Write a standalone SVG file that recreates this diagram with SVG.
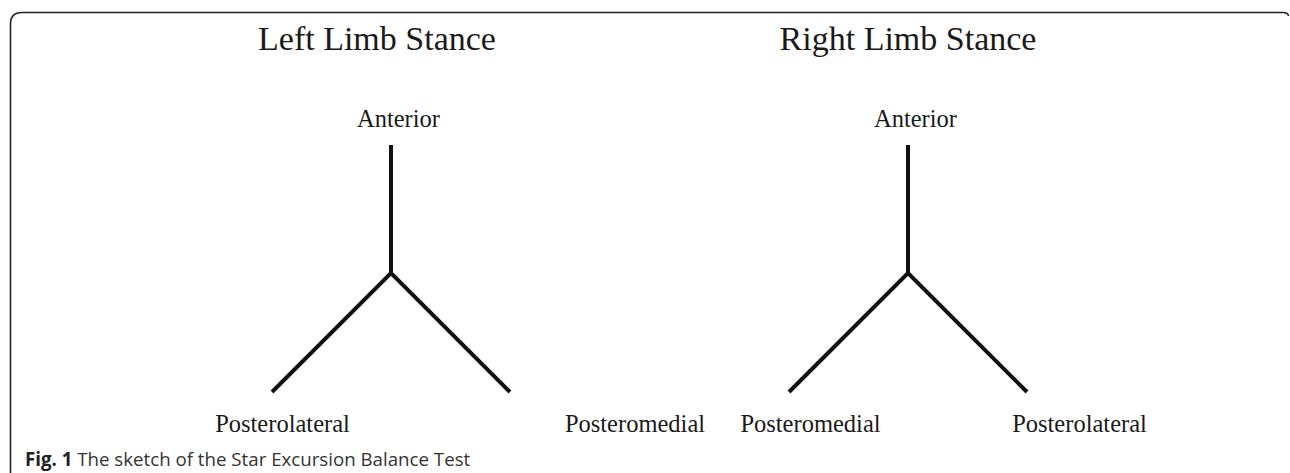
<svg xmlns="http://www.w3.org/2000/svg" width="1290" height="473" viewBox="0 0 1290 473">
<style>
.title{font-family:"Liberation Serif","Times New Roman",serif;font-size:34px;fill:#1a1a1a;text-anchor:middle}
.lbl{font-family:"Liberation Serif","Times New Roman",serif;font-size:24.5px;fill:#1a1a1a;text-anchor:middle}
.arm{stroke:#111;stroke-width:4;fill:none;stroke-linecap:butt}
.cap{font-family:"Open Sans","Noto Sans",sans-serif;font-size:18.7px;fill:#333}
</style>
<rect width="1290" height="473" fill="#fff"/>
<path d="M10.5 473 V24 Q10.5 12.5 22 12.5 H1283 Q1288 12.5 1288.5 16" fill="none" stroke="#222" stroke-width="1.6"/>
<g id="left-stance">
<text class="title" x="377" y="50">Left Limb Stance</text>
</g>
<g id="right-stance">
<text class="title" x="908" y="50">Right Limb Stance</text>
</g>
<g id="left-anterior"><text class="lbl" x="398.5" y="127">Anterior</text></g>
<g id="left-posterolateral"><text class="lbl" x="282.5" y="432">Posterolateral</text></g>
<g id="left-posteromedial"><text class="lbl" x="635" y="432">Posteromedial</text></g>
<g id="right-anterior"><text class="lbl" x="915.5" y="127">Anterior</text></g>
<g id="right-posteromedial"><text class="lbl" x="810.5" y="432">Posteromedial</text></g>
<g id="right-posterolateral"><text class="lbl" x="1079.5" y="432">Posterolateral</text></g>
<g id="connectors">
<path class="arm" d="M391 145 V273 M272 392 L391 273 L510 392"/>
<path class="arm" d="M908 145 V273 M789 392 L908 273 L1027 392"/>
</g>
<text class="cap" x="25" y="466"><tspan font-weight="bold" fill="#222">Fig. 1</tspan> The sketch of the Star Excursion Balance Test</text>
</svg>
